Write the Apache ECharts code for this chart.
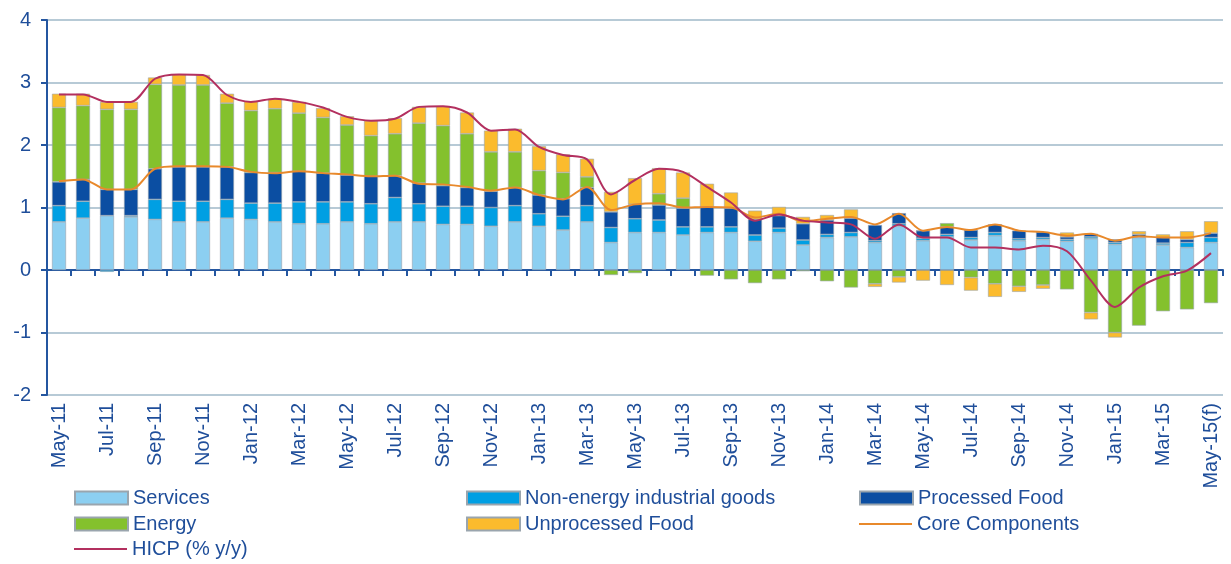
<!DOCTYPE html>
<html>
<head>
<meta charset="utf-8">
<script src="https://cdn.jsdelivr.net/npm/echarts@6/dist/echarts.min.js"></script>
<style>
  html, body { margin: 0; padding: 0; background: #fff; }
  #chart { width: 1231px; height: 564px; }
</style>
</head>
<body>
<div id="chart"></div>
<script>
// months, May-11 .. May-15 (forecast)
const months = [
  'May-11', 'Jun-11', 'Jul-11', 'Aug-11', 'Sep-11', 'Oct-11', 'Nov-11', 'Dec-11',
  'Jan-12', 'Feb-12', 'Mar-12', 'Apr-12', 'May-12', 'Jun-12', 'Jul-12', 'Aug-12', 'Sep-12', 'Oct-12', 'Nov-12', 'Dec-12',
  'Jan-13', 'Feb-13', 'Mar-13', 'Apr-13', 'May-13', 'Jun-13', 'Jul-13', 'Aug-13', 'Sep-13', 'Oct-13', 'Nov-13', 'Dec-13',
  'Jan-14', 'Feb-14', 'Mar-14', 'Apr-14', 'May-14', 'Jun-14', 'Jul-14', 'Aug-14', 'Sep-14', 'Oct-14', 'Nov-14', 'Dec-14',
  'Jan-15', 'Feb-15', 'Mar-15', 'Apr-15', 'May-15(f)'
]

// contributions, percentage points
const services = [
  0.77, 0.83, 0.87, 0.85, 0.81, 0.77, 0.77, 0.83,
  0.81, 0.77, 0.74, 0.74, 0.77, 0.74, 0.77, 0.77, 0.73, 0.73, 0.70, 0.77,
  0.70, 0.64, 0.77, 0.44, 0.60, 0.60, 0.56, 0.60, 0.60, 0.46, 0.60, 0.40,
  0.52, 0.53, 0.44, 0.70, 0.47, 0.53, 0.48, 0.55, 0.47, 0.49, 0.46, 0.50,
  0.41, 0.52, 0.40, 0.36, 0.44
]
const nonEnergy = [
  0.26, 0.27, -0.03, 0.02, 0.32, 0.33, 0.33, 0.30,
  0.26, 0.30, 0.35, 0.35, 0.32, 0.32, 0.39, 0.29, 0.29, 0.29, 0.30, 0.26,
  0.20, 0.22, 0.26, 0.24, 0.22, 0.20, 0.13, 0.09, 0.09, 0.10, 0.07, 0.08,
  0.05, 0.07, 0.03, 0.04, 0.04, 0.04, 0.04, 0.05, 0.03, 0.03, 0.03, 0.03,
  0.03, 0.01, 0.03, 0.08, 0.08
]
const processedFood = [
  0.38, 0.35, 0.42, 0.42, 0.49, 0.55, 0.55, 0.52,
  0.49, 0.49, 0.49, 0.46, 0.43, 0.44, 0.35, 0.33, 0.33, 0.30, 0.26, 0.29,
  0.30, 0.28, 0.29, 0.25, 0.23, 0.24, 0.30, 0.32, 0.30, 0.25, 0.20, 0.26,
  0.23, 0.23, 0.25, 0.17, 0.12, 0.12, 0.12, 0.13, 0.13, 0.09, 0.04, 0.05,
  0.05, 0.04, 0.09, 0.05, 0.07
]
const energy = [
  1.19, 1.18, 1.28, 1.28, 1.35, 1.31, 1.31, 1.02,
  0.99, 1.02, 0.93, 0.89, 0.80, 0.65, 0.67, 0.96, 0.96, 0.86, 0.63, 0.57,
  0.39, 0.42, 0.17, -0.08, -0.05, 0.18, 0.16, -0.09, -0.15, -0.21, -0.15, -0.02,
  -0.18, -0.28, -0.22, -0.11, 0, 0.06, -0.12, -0.22, -0.26, -0.24, -0.31, -0.68,
  -1.00, -0.89, -0.66, -0.63, -0.53
]
const unprocessedFood = [
  0.22, 0.19, 0.12, 0.12, 0.11, 0.17, 0.16, 0.15,
  0.15, 0.16, 0.18, 0.15, 0.14, 0.24, 0.25, 0.26, 0.31, 0.34, 0.34, 0.37,
  0.39, 0.29, 0.29, 0.32, 0.42, 0.41, 0.41, 0.37, 0.25, 0.14, 0.14, 0.11,
  0.08, 0.14, -0.05, -0.09, -0.17, -0.24, -0.21, -0.21, -0.09, -0.06, 0.07, -0.11,
  -0.08, 0.05, 0.05, 0.13, 0.19
]
const core = [
  1.42, 1.45, 1.29, 1.29, 1.62, 1.66, 1.66, 1.65,
  1.57, 1.55, 1.58, 1.55, 1.53, 1.50, 1.51, 1.38, 1.37, 1.33, 1.27, 1.32,
  1.20, 1.13, 1.33, 0.96, 1.05, 1.07, 1.00, 1.01, 1.00, 0.84, 0.90, 0.78,
  0.82, 0.85, 0.73, 0.90, 0.63, 0.69, 0.64, 0.73, 0.63, 0.61, 0.55, 0.58,
  0.47, 0.54, 0.52, 0.52, 0.59
]
const hicp = [
  2.81, 2.81, 2.69, 2.69, 3.06, 3.13, 3.12, 2.80,
  2.69, 2.74, 2.69, 2.60, 2.45, 2.39, 2.42, 2.61, 2.62, 2.52, 2.23, 2.25,
  1.97, 1.84, 1.77, 1.21, 1.44, 1.62, 1.57, 1.33, 1.08, 0.79, 0.89, 0.79,
  0.76, 0.73, 0.50, 0.73, 0.52, 0.52, 0.36, 0.36, 0.33, 0.39, 0.30, -0.17,
  -0.59, -0.28, -0.10, -0.01, 0.27
]

const textBlue = '#1f4e9a'
const font = 'Liberation Sans, Arial, sans-serif'

const chart = echarts.init(document.getElementById('chart'))

function barSeries(name, data, color) {
  return {
    name: name,
    type: 'bar',
    stack: 'hicp',
    barWidth: 14,
    data: data,
    itemStyle: { color: color, borderColor: '#9aa5ae', borderWidth: 0.6 }
  }
}

function lineSeries(name, data, color) {
  return {
    name: name,
    type: 'line',
    data: data,
    symbol: 'none',
    smooth: 0.3,
    z: 5,
    lineStyle: { color: color, width: 2 },
    itemStyle: { color: color }
  }
}

const legendText = { color: textBlue, fontSize: 20, fontFamily: font }

// legend columns are separate components so they line up like the original
const option = {
  animation: false,
  backgroundColor: '#fff',
  grid: { left: 47, right: 8, top: 20, bottom: 169 },
  legend: [
    {
      left: 74, top: 488, padding: 0, orient: 'vertical', itemGap: 6, itemWidth: 53, itemHeight: 13,
      icon: 'rect', textStyle: legendText, data: ['Services', 'Energy']
    },
    {
      left: 466, top: 488, padding: 0, orient: 'vertical', itemGap: 6, itemWidth: 53, itemHeight: 13,
      icon: 'rect', textStyle: legendText, data: ['Non-energy industrial goods', 'Unprocessed Food']
    },
    {
      left: 859, top: 488, padding: 0, itemWidth: 53, itemHeight: 13,
      icon: 'rect', textStyle: legendText, data: ['Processed Food']
    },
    {
      left: 859, top: 514, padding: 0, itemWidth: 53, itemHeight: 2,
      icon: 'rect', textStyle: legendText, data: ['Core Components']
    },
    {
      left: 74, top: 539, padding: 0, itemWidth: 53, itemHeight: 2,
      icon: 'rect', textStyle: legendText, data: ['HICP (% y/y)']
    }
  ],
  xAxis: [
    {
      // labels at the bottom of the plot
      type: 'category',
      data: months,
      position: 'bottom',
      axisLine: { show: false, onZero: false },
      axisTick: { show: false },
      axisLabel: {
        interval: 1,
        rotate: 90,
        margin: 8,
        color: textBlue,
        fontSize: 20,
        fontFamily: font
      }
    },
    {
      // zero line with ticks
      type: 'category',
      data: months,
      position: 'top',
      axisLine: { onZero: true, lineStyle: { color: '#2456a0', width: 2 } },
      axisTick: { show: true, inside: true, length: 6, interval: 0, lineStyle: { color: '#2456a0', width: 2 } },
      axisLabel: { show: false }
    }
  ],
  yAxis: {
    type: 'value',
    min: -2,
    max: 4,
    interval: 1,
    axisLine: { show: true, lineStyle: { color: '#2456a0', width: 2 } },
    axisTick: { show: true, length: 6, lineStyle: { color: '#2456a0', width: 2 } },
    axisLabel: { color: textBlue, fontSize: 20, fontFamily: font, margin: 16 },
    splitLine: { lineStyle: { color: '#b7cad6', width: 2 } }
  },
  series: [
    barSeries('Services', services, '#8ccff1'),
    barSeries('Non-energy industrial goods', nonEnergy, '#009fe3'),
    barSeries('Processed Food', processedFood, '#0b4ea2'),
    barSeries('Energy', energy, '#84c12d'),
    barSeries('Unprocessed Food', unprocessedFood, '#fbbb2d'),
    lineSeries('Core Components', core, '#e8892b'),
    lineSeries('HICP (% y/y)', hicp, '#b3305f')
  ]
}

chart.setOption(option)
</script>
</body>
</html>
